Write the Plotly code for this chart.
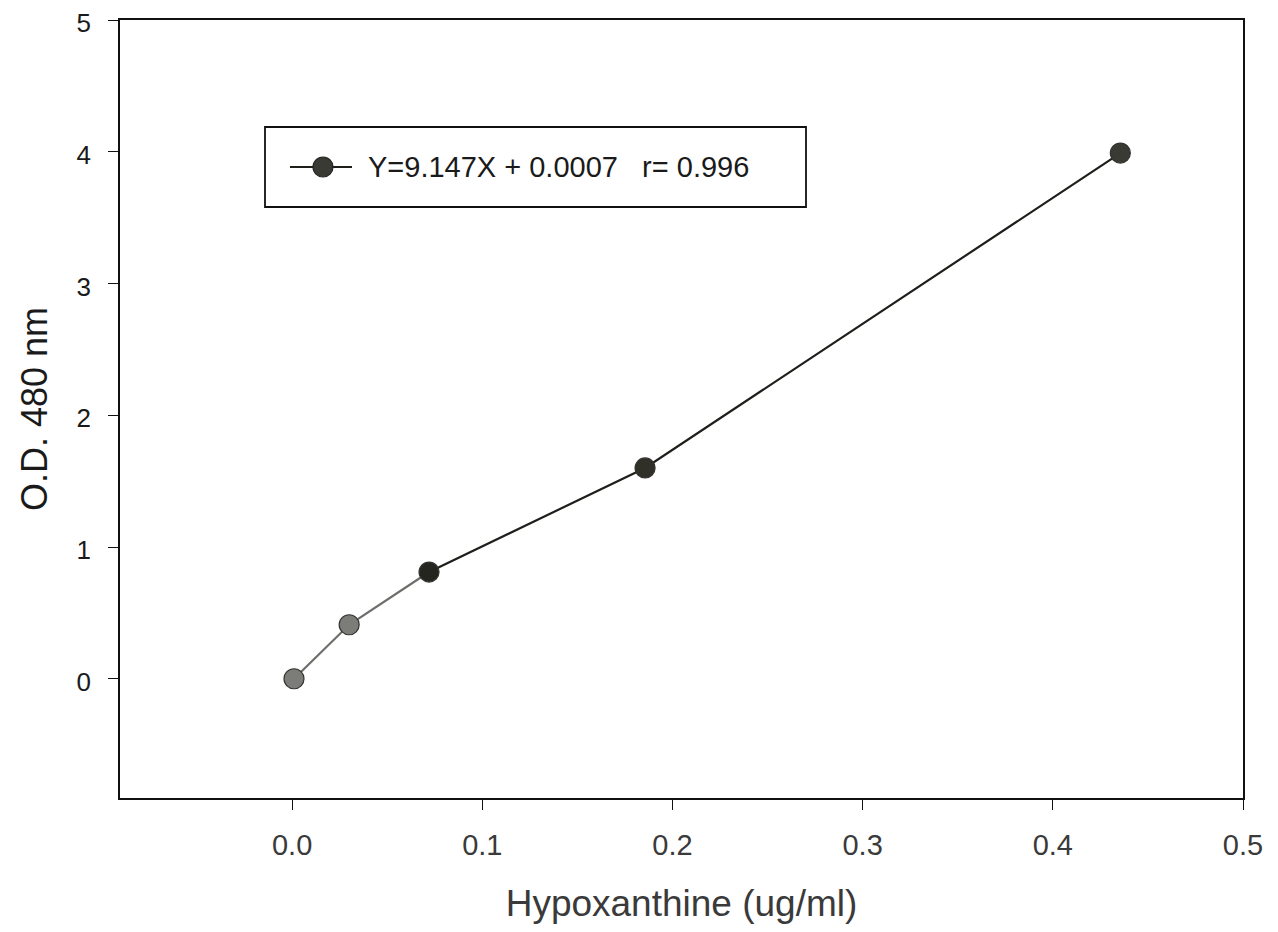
import plotly.graph_objects as go

# Data
hypoxanthine = [0.001, 0.030, 0.072, 0.1856, 0.4355]
od480 = [0.0, 0.41, 0.81, 1.60, 3.99]
marker_colors = ["#7c7c78", "#7c7c78", "#25251f", "#303029", "#3a3a34"]
legend_label = "Y=9.147X + 0.0007   r= 0.996"
x_ticks = [0.0, 0.1, 0.2, 0.3, 0.4, 0.5]
x_tick_text = ["0.0", "0.1", "0.2", "0.3", "0.4", "0.5"]
y_ticks = [0, 1, 2, 3, 4, 5]

FONT = "Liberation Sans, Arial, sans-serif"

# plot area in page pixels (reference): left 120, right 1243, top 20, bottom 798
PW, PH = 1123, 778


def px(xp):
    return (xp - 120) / PW


def py(yp):
    return (798 - yp) / PH


fig = go.Figure()

fig.add_trace(go.Scatter(
    x=hypoxanthine[:3], y=od480[:3], mode="lines",
    line=dict(color="#6e6e6a", width=2.2), showlegend=False, hoverinfo="skip",
))
fig.add_trace(go.Scatter(
    x=hypoxanthine[2:], y=od480[2:], mode="lines",
    line=dict(color="#1e1e1a", width=2.2), showlegend=False, hoverinfo="skip",
))
fig.add_trace(go.Scatter(
    x=hypoxanthine, y=od480, mode="markers", name=legend_label,
    marker=dict(size=20, color=marker_colors, line=dict(color="#333330", width=1.2)),
    showlegend=False,
))

# legend box (drawn by hand to match the original's long symbol line)
fig.add_shape(type="rect", xref="paper", yref="paper",
              x0=px(265), x1=px(806), y0=py(207), y1=py(127),
              line=dict(color="#111", width=1.8), fillcolor="rgba(0,0,0,0)", layer="above")
fig.add_shape(type="line", xref="paper", yref="paper",
              x0=px(290), x1=px(352), y0=py(167), y1=py(167),
              line=dict(color="#1e1e1a", width=2.2), layer="above")
fig.add_shape(type="circle", xref="paper", yref="paper",
              xsizemode="pixel", ysizemode="pixel",
              xanchor=px(323), yanchor=py(167), x0=-10, x1=10, y0=-10, y1=10,
              line=dict(color="#222", width=1.2), fillcolor="#3a3a34", layer="above")
fig.add_annotation(xref="paper", yref="paper", x=px(366), y=py(167),
                   xanchor="left", yanchor="middle", showarrow=False,
                   text=legend_label, font=dict(size=29, family=FONT, color="#1a1a1a"))

# page body has an 8px margin; compensate so the plot area lands where the reference has it
W, H = 1262, 916
OFF = 8
fig.update_layout(
    width=W, height=H,
    margin=dict(l=120 - OFF, r=W + OFF - 1243, t=20 - OFF, b=H + OFF - 798),
    paper_bgcolor="white", plot_bgcolor="white",
    font=dict(family=FONT, color="#1a1a1a"),
    showlegend=False,
    xaxis=dict(
        range=[-0.0905, 0.5], tickvals=x_ticks, ticktext=x_tick_text,
        showline=True, linecolor="#111", linewidth=1.6, mirror=True,
        ticks="outside", ticklen=10, tickwidth=1.4, tickcolor="#111",
        ticklabelstandoff=10, automargin=False, ticklabeloverflow="allow",
        showgrid=False, zeroline=False,
        tickfont=dict(size=29, family=FONT, color="#3a3a3a"),
        title=dict(text="Hypoxanthine (ug/ml)", font=dict(size=37, family=FONT, color="#3a3a3a"), standoff=37),
    ),
    yaxis=dict(
        range=[-0.905, 5.0], tickvals=y_ticks,
        showline=True, linecolor="#111", linewidth=1.6, mirror=True,
        ticks="outside", ticklen=10, tickwidth=1.4, tickcolor="#111",
        ticklabelstandoff=12, ticklabelshift=3, automargin=False, ticklabeloverflow="allow",
        showgrid=False, zeroline=False,
        tickfont=dict(size=26, family=FONT, color="#1a1a1a"),
        title=dict(text="O.D. 480 nm", font=dict(size=36, family=FONT, color="#1a1a1a"), standoff=18),
    ),
)

fig.write_html("out.html")
